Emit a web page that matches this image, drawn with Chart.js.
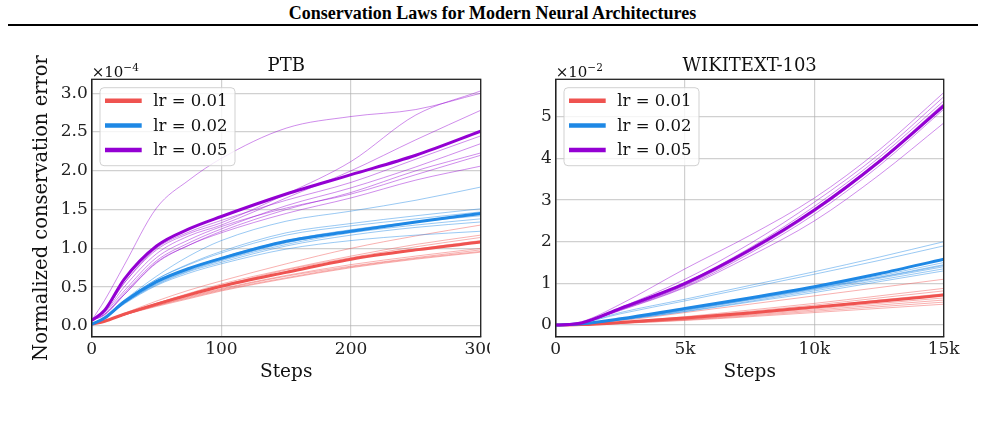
<!DOCTYPE html>
<html>
<head>
<meta charset="utf-8">
<script src="https://cdn.jsdelivr.net/npm/chart.js@4"></script>
<style>
  body { margin: 0; background: #fff; width: 985px; height: 428px; overflow: hidden; position: relative; }
  #cabecalho { position: absolute; left: 0; top: 3px; width: 985px; text-align: center; font: bold 18px "Liberation Serif"; color: #000; }
  #linha { position: absolute; left: 8px; top: 24px; width: 970px; height: 2px; background: #000; }
  #ptb { position: absolute; left: 0; top: 40px; }
  #wiki { position: absolute; left: 500px; top: 40px; }
</style>
</head>
<body>
<div id="cabecalho">Conservation Laws for Modern Neural Architectures</div>
<div id="linha"></div>
<canvas id="ptb" width="490" height="350"></canvas>
<canvas id="wiki" width="485" height="350"></canvas>
<script>
// ---- dados PTB (unidades de 1e-4) ----
let ptbSteps = [0, 10, 25, 50, 75, 100, 150, 200, 250, 300];
let ptbXTicks = ["0", "100", "200", "300"];

let ptbMean001 = [0.02, 0.06, 0.15, 0.28, 0.40, 0.51, 0.69, 0.86, 0.98, 1.08];
let ptbRuns001 = [
  [0.02, 0.06, 0.16, 0.32, 0.46, 0.58, 0.80, 1.00, 1.16, 1.30],
  [0.02, 0.06, 0.15, 0.29, 0.42, 0.54, 0.73, 0.90, 1.05, 1.17],
  [0.02, 0.06, 0.15, 0.29, 0.41, 0.52, 0.72, 0.88, 1.02, 1.14],
  [0.02, 0.06, 0.15, 0.28, 0.40, 0.51, 0.70, 0.86, 0.99, 1.10],
  [0.02, 0.06, 0.14, 0.27, 0.38, 0.48, 0.65, 0.79, 0.90, 1.00],
  [0.02, 0.06, 0.14, 0.26, 0.37, 0.47, 0.64, 0.77, 0.88, 0.98],
  [0.02, 0.06, 0.14, 0.26, 0.36, 0.46, 0.62, 0.76, 0.87, 0.96],
  [0.02, 0.06, 0.14, 0.25, 0.35, 0.45, 0.61, 0.75, 0.86, 0.95]
];

let ptbMean002 = [0.02, 0.10, 0.31, 0.57, 0.74, 0.87, 1.09, 1.22, 1.34, 1.45];
let ptbRuns002 = [
  [0.02, 0.12, 0.33, 0.64, 0.90, 1.10, 1.35, 1.48, 1.62, 1.79],
  [0.02, 0.11, 0.32, 0.60, 0.80, 0.96, 1.20, 1.32, 1.42, 1.51],
  [0.02, 0.11, 0.32, 0.60, 0.79, 0.94, 1.17, 1.29, 1.38, 1.47],
  [0.02, 0.10, 0.30, 0.56, 0.74, 0.88, 1.10, 1.24, 1.34, 1.42],
  [0.02, 0.10, 0.29, 0.54, 0.71, 0.84, 1.05, 1.20, 1.30, 1.38],
  [0.02, 0.10, 0.29, 0.53, 0.70, 0.82, 1.03, 1.17, 1.27, 1.34],
  [0.02, 0.10, 0.28, 0.52, 0.68, 0.80, 0.99, 1.10, 1.17, 1.22],
  [0.02, 0.10, 0.29, 0.55, 0.72, 0.85, 1.07, 1.22, 1.34, 1.44]
];

let ptbMean005 = [0.07, 0.20, 0.60, 1.03, 1.25, 1.41, 1.70, 1.95, 2.20, 2.51];
let ptbRuns005 = [
  [0.07, 0.33, 0.78, 1.52, 1.88, 2.16, 2.55, 2.70, 2.79, 3.00],
  [0.07, 0.20, 0.55, 0.98, 1.19, 1.33, 1.70, 2.12, 2.72, 3.03],
  [0.07, 0.18, 0.50, 0.93, 1.16, 1.30, 1.65, 2.00, 2.40, 2.78],
  [0.07, 0.20, 0.55, 1.00, 1.21, 1.36, 1.62, 1.85, 2.15, 2.45],
  [0.07, 0.15, 0.42, 0.84, 1.07, 1.25, 1.55, 1.78, 2.05, 2.35],
  [0.07, 0.15, 0.40, 0.82, 1.04, 1.22, 1.50, 1.72, 2.00, 2.23],
  [0.07, 0.17, 0.45, 0.88, 1.11, 1.28, 1.52, 1.70, 1.95, 2.20],
  [0.07, 0.14, 0.40, 0.81, 1.04, 1.20, 1.45, 1.65, 1.88, 2.06]
];

// ---- dados WIKITEXT-103 (unidades de 1e-2) ----
let wikiSteps = [0, 1000, 2500, 5000, 7500, 10000, 12500, 15000];
let wikiXTicks = ["0", "5k", "10k", "15k"];

let wikiMean001 = [0, 0.01, 0.06, 0.17, 0.29, 0.43, 0.57, 0.72];
let wikiRuns001 = [
  [0, 0.02, 0.10, 0.30, 0.50, 0.70, 0.90, 1.10],
  [0, 0.01, 0.07, 0.20, 0.36, 0.52, 0.70, 0.88],
  [0, 0.01, 0.06, 0.18, 0.33, 0.48, 0.65, 0.82],
  [0, 0.01, 0.05, 0.16, 0.30, 0.44, 0.60, 0.75],
  [0, 0.01, 0.05, 0.14, 0.26, 0.39, 0.52, 0.65],
  [0, 0.01, 0.05, 0.13, 0.24, 0.36, 0.48, 0.60],
  [0, 0.01, 0.04, 0.12, 0.22, 0.33, 0.44, 0.55],
  [0, 0.01, 0.04, 0.11, 0.20, 0.30, 0.40, 0.50]
];

let wikiMean002 = [0, 0.03, 0.15, 0.40, 0.65, 0.92, 1.23, 1.58];
let wikiRuns002 = [
  [0, 0.05, 0.30, 0.62, 0.95, 1.28, 1.63, 2.00],
  [0, 0.05, 0.27, 0.58, 0.90, 1.22, 1.55, 1.90],
  [0, 0.03, 0.14, 0.38, 0.64, 0.90, 1.18, 1.50],
  [0, 0.03, 0.14, 0.37, 0.62, 0.88, 1.15, 1.45],
  [0, 0.03, 0.13, 0.35, 0.60, 0.85, 1.12, 1.40],
  [0, 0.03, 0.12, 0.33, 0.57, 0.82, 1.08, 1.35],
  [0, 0.03, 0.12, 0.32, 0.55, 0.78, 1.04, 1.30],
  [0, 0.03, 0.13, 0.36, 0.61, 0.87, 1.14, 1.43]
];

let wikiMean005 = [0, 0.05, 0.40, 1.00, 1.80, 2.76, 3.92, 5.26];
let wikiRuns005 = [
  [0, 0.08, 0.50, 1.35, 2.15, 3.05, 4.20, 5.58],
  [0, 0.06, 0.42, 1.10, 1.95, 2.95, 4.10, 5.48],
  [0, 0.05, 0.40, 1.02, 1.85, 2.85, 4.02, 5.38],
  [0, 0.05, 0.38, 0.98, 1.80, 2.78, 3.95, 5.32],
  [0, 0.05, 0.37, 0.95, 1.76, 2.72, 3.90, 5.25],
  [0, 0.05, 0.36, 0.92, 1.72, 2.66, 3.82, 5.18],
  [0, 0.05, 0.35, 0.90, 1.65, 2.50, 3.60, 4.85],
  [0, 0.05, 0.37, 0.96, 1.78, 2.76, 3.92, 5.30]
];

let legendas = ["lr = 0.01", "lr = 0.02", "lr = 0.05"];
let cores = ["#ef5350", "#1e88e5", "#9400d3"];

// hex -> rgba
function transparente(hex, a) {
  let r = parseInt(hex.slice(1, 3), 16);
  let g = parseInt(hex.slice(3, 5), 16);
  let b = parseInt(hex.slice(5, 7), 16);
  return "rgba(" + r + "," + g + "," + b + "," + a + ")";
}

function montarDatasets(steps, grupos) {
  let lista = [];
  grupos.forEach((grupo, i) => {
    grupo.runs.forEach(run => {
      lista.push({
        data: steps.map((s, k) => ({ x: s, y: run[k] })),
        borderColor: transparente(cores[i], 0.45),
        borderWidth: 1
      });
    });
    lista.push({
      data: steps.map((s, k) => ({ x: s, y: grupo.mean[k] })),
      borderColor: cores[i],
      borderWidth: 3
    });
  });
  // o primeiro dataset fica por cima
  return lista.reverse();
}

// titulo, rotulos, expoente e legenda
function decoracao(cfg) {
  return {
    id: "decoracao",
    afterDraw(chart) {
      let ctx = chart.ctx;
      let a = chart.chartArea;
      ctx.save();

      ctx.strokeStyle = "#222";
      ctx.lineWidth = 1.3;
      ctx.strokeRect(a.left, a.top, a.right - a.left, a.bottom - a.top);

      ctx.fillStyle = "#111";
      ctx.textBaseline = "alphabetic";
      ctx.textAlign = "center";
      ctx.font = "18px 'DejaVu Serif'";
      ctx.fillText(cfg.titulo, (a.left + a.right) / 2, a.top - 8);

      ctx.font = "18.5px 'DejaVu Serif'";
      ctx.fillText("Steps", (a.left + a.right) / 2, a.bottom + 40);

      if (cfg.rotuloY) {
        ctx.save();
        ctx.translate(a.left - 45, (a.top + a.bottom) / 2);
        ctx.rotate(-Math.PI / 2);
        ctx.font = "19.5px 'DejaVu Serif'";
        ctx.fillText(cfg.rotuloY, 0, 0);
        ctx.restore();
      }

      // x10^n
      ctx.textAlign = "left";
      ctx.font = "15px 'DejaVu Serif'";
      ctx.fillText("\u00d710", a.left, a.top - 2);
      let w = ctx.measureText("\u00d710").width;
      ctx.font = "10.5px 'DejaVu Serif'";
      ctx.fillText("\u2212" + cfg.expoente, a.left + w, a.top - 8.5);

      // legenda
      let bx = a.left + 8.3, by = a.top + 8.4;
      ctx.beginPath();
      ctx.roundRect(bx, by, 135, 78, 4);
      ctx.fillStyle = "rgba(255,255,255,0.8)";
      ctx.fill();
      ctx.strokeStyle = "rgba(204,204,204,0.9)";
      ctx.lineWidth = 1;
      ctx.stroke();

      ctx.font = "16.5px 'DejaVu Serif'";
      ctx.textBaseline = "middle";
      legendas.forEach((txt, i) => {
        let y = a.top + 21.4 + i * 24.7;
        ctx.strokeStyle = cores[i];
        ctx.lineWidth = 4.5;
        ctx.beginPath();
        ctx.moveTo(a.left + 13.3, y);
        ctx.lineTo(a.left + 50, y);
        ctx.stroke();
        ctx.fillStyle = "#111";
        ctx.fillText(txt, a.left + 61.6, y + 1);
      });

      ctx.restore();
    }
  };
}

let fonteTick = { family: "DejaVu Serif", size: 17 };
let corGrade = "rgba(176,176,176,0.6)";

function criarGrafico(id, steps, grupos, eixos, cfg) {
  let canvas = document.getElementById(id);
  return new Chart(canvas.getContext("2d"), {
    type: "line",
    data: { datasets: montarDatasets(steps, grupos) },
    plugins: [decoracao(cfg)],
    options: {
      responsive: false,
      animation: false,
      events: [],
      layout: { padding: { left: 0, top: 39.3, right: eixos.direita, bottom: 0 } },
      elements: {
        point: { radius: 0 },
        line: { cubicInterpolationMode: "monotone" }
      },
      plugins: { legend: { display: false }, tooltip: { enabled: false } },
      scales: {
        x: {
          type: "linear",
          min: eixos.xmin, max: eixos.xmax,
          ticks: {
            stepSize: eixos.xstep, font: fonteTick, color: "#222", padding: 3,
            maxRotation: 0, includeBounds: false,
            callback: (v) => eixos.xLabels[Math.round(v / eixos.xstep)]
          },
          grid: { color: corGrade, lineWidth: 1.2, drawTicks: false },
          border: { color: "#222", width: 1.3 },
          afterFit(s) { s.height = 53.3; s.paddingLeft = 0; s.paddingRight = 0; }
        },
        y: {
          type: "linear",
          min: eixos.ymin, max: eixos.ymax,
          ticks: {
            stepSize: eixos.ystep, font: fonteTick, color: "#222", padding: 4,
            includeBounds: false,
            callback: (v) => v.toFixed(eixos.casas)
          },
          grid: { color: corGrade, lineWidth: 1.2, drawTicks: false },
          border: { color: "#222", width: 1.3 },
          afterFit(s) { s.width = eixos.esquerda; s.paddingTop = 0; s.paddingBottom = 0; }
        }
      }
    }
  });
}

criarGrafico("ptb", ptbSteps, [
  { mean: ptbMean001, runs: ptbRuns001 },
  { mean: ptbMean002, runs: ptbRuns002 },
  { mean: ptbMean005, runs: ptbRuns005 }
], {
  xmin: 0, xmax: 300, xstep: 100, xLabels: ptbXTicks,
  ymin: -0.14, ymax: 3.18, ystep: 0.5, casas: 1,
  esquerda: 91.7, direita: 9.3
}, { titulo: "PTB", rotuloY: "Normalized conservation error", expoente: "4" });

criarGrafico("wiki", wikiSteps, [
  { mean: wikiMean001, runs: wikiRuns001 },
  { mean: wikiMean002, runs: wikiRuns002 },
  { mean: wikiMean005, runs: wikiRuns005 }
], {
  xmin: 0, xmax: 15000, xstep: 5000, xLabels: wikiXTicks,
  ymin: -0.28, ymax: 5.9, ystep: 1, casas: 0,
  esquerda: 55.7, direita: 41.3
}, { titulo: "WIKITEXT-103", rotuloY: null, expoente: "2" });
</script>
</body>
</html>
